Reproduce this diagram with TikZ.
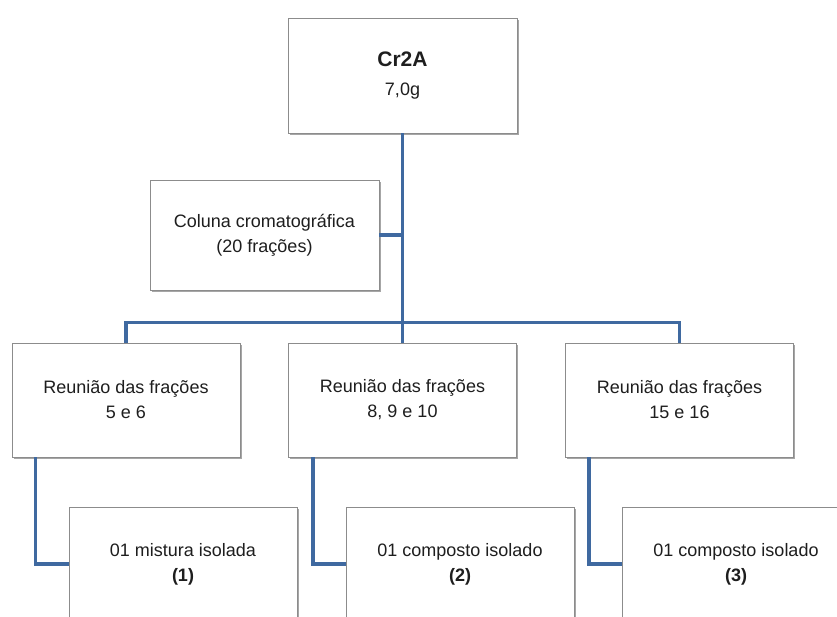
\documentclass[tikz,border=0pt]{standalone}
\usepackage{fontspec}
\setmainfont{Liberation Sans}
\usetikzlibrary{shadows}
\definecolor{linkblue}{HTML}{3F69A0}
\definecolor{boxline}{HTML}{8C8C8C}
\definecolor{txt}{HTML}{1E1E1E}
\tikzset{
  box/.style={draw=boxline, line width=0.8pt, fill=white, minimum width=228pt, minimum height=114pt,
    inner sep=0pt, align=center, text=txt, font=\fontsize{18}{25}\selectfont,
    drop shadow={shadow xshift=1.5pt, shadow yshift=-2pt, fill=black, opacity=0.35}},
  link/.style={draw=linkblue, line width=3.6pt}
}
\begin{document}
\begin{tikzpicture}[x=1pt,y=-1pt]
\clip (0,0) rectangle (837,617);
\fill[white] (0,0) rectangle (837,617);
\node[box, minimum width=229pt, minimum height=115pt] (top) at (402.5,75.5)
  {{\fontsize{21}{25}\selectfont\bfseries Cr2A}\\[4pt]7,0g};
\node[box, minimum width=229pt, minimum height=110pt] (col) at (264.5,235)
  {Coluna cromatográfica\\(20 frações)};
\node[box] (r1) at (126,400) {Reunião das frações\\5 e 6};
\node[box] (r2) at (402.5,400) {Reunião das frações\\8, 9 e 10};
\node[box] (r3) at (679.5,400) {Reunião das frações\\15 e 16};
\node[box] (b1) at (183,564) {01 mistura isolada\\\textbf{(1)}};
\node[box] (b2) at (460,564) {01 composto isolado\\\textbf{(2)}};
\node[box] (b3) at (736,564) {01 composto isolado\\\textbf{(3)}};
\draw[link] (top.south) -- (r2.north);
\draw[link] (col.east) -- (col.east -| top.south);
\draw[link] (r1.north) -- ++(0,-20) -| (r3.north);
\draw[link] ([xshift=24pt]r1.south west) |- (b1.west);
\draw[link] ([xshift=25pt]r2.south west) |- (b2.west);
\draw[link] ([xshift=24pt]r3.south west) |- (b3.west);
\end{tikzpicture}
\end{document}
